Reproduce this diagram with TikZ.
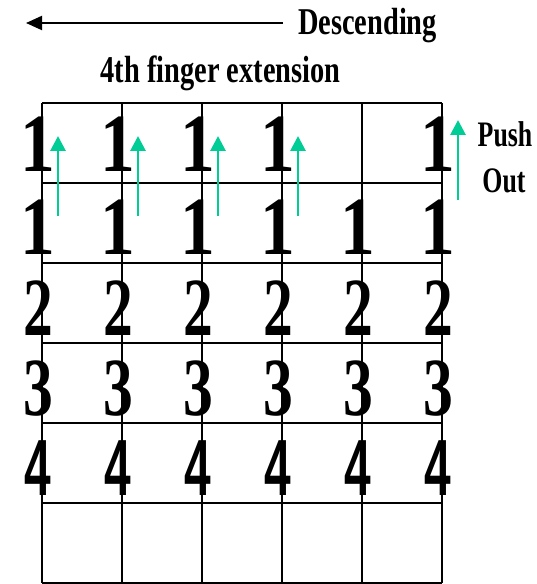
\documentclass[tikz,border=0pt]{standalone}
\usepackage{fontspec}
\setmainfont{Liberation Serif}
\newfontfamily\digsans{Liberation Sans}
\usetikzlibrary{arrows.meta}
\definecolor{pushgreen}{RGB}{0,204,150}
\begin{document}
\begin{tikzpicture}[x=1bp,y=-1bp,
  gridline/.style={line width=1.6bp,black},
  digit/.style={anchor=base,inner sep=0pt,font=\bfseries\fontsize{83}{83}\selectfont},
  lbl/.style={anchor=base,inner sep=0pt,font=\bfseries\fontsize{38}{38}\selectfont},
  pusharrow/.style={pushgreen,line width=2.8bp,-{Triangle[width=15bp,length=15bp]}},
  descarrow/.style={black,line width=2bp,-{Triangle[width=14bp,length=16bp]}}]
\useasboundingbox (0,0) rectangle (537,584);
% grid
\foreach \x in {42,122,202,282,362,442} \draw[gridline] (\x,103) -- (\x,583);
\foreach \y in {103,183,263,343,423,503,583} \draw[gridline] (42,\y) -- (442,\y);
% digits
\foreach \c [count=\i] in {38,118,198,278,358,438} {
  \ifnum\i=5\else
  \node[digit] (r1c\i) at (\c,172) {\scalebox{0.84}[1]{1}};
  \fi
  \node[digit] (r2c\i) at (\c,254) {\scalebox{0.84}[1]{1}};
  \node[digit] (r3c\i) at (\c,335) {\scalebox{0.72}[1]{2}};
  \node[digit] (r4c\i) at (\c,415) {\scalebox{0.72}[1]{3}};
  \node[digit,font=\digsans\bfseries\fontsize{80}{80}\selectfont] (r5c\i) at (\c,495) {\scalebox{0.6}[1]{4}};
}
% green arrows
\foreach \x [count=\i] in {58,138,218,298} {
  \coordinate (ga\i s) at (\x,216);
  \coordinate (ga\i e) at (\x,136);
  \draw[pusharrow] (ga\i s) -- (ga\i e);
}
\coordinate (ga5s) at (458,200);
\coordinate (ga5e) at (458,120);
\draw[pusharrow] (ga5s) -- (ga5e);
% labels
\node[lbl] (desc) at (367.5,35) {\scalebox{0.75}[1]{Descending}};
\node[lbl] (finger) at (220.5,83) {\scalebox{0.75}[1]{4th finger extension}};
\node[lbl,font=\bfseries\fontsize{36}{36}\selectfont] (push) at (505,147) {\scalebox{0.72}[1]{Push}};
\node[lbl,font=\bfseries\fontsize{36}{36}\selectfont] (out) at (504,192) {\scalebox{0.72}[1]{Out}};
% descending arrow
\coordinate (dstart) at (283,23);
\coordinate (dend) at (26,23);
\draw[descarrow] (dstart) -- (dend);
\end{tikzpicture}
\end{document}
